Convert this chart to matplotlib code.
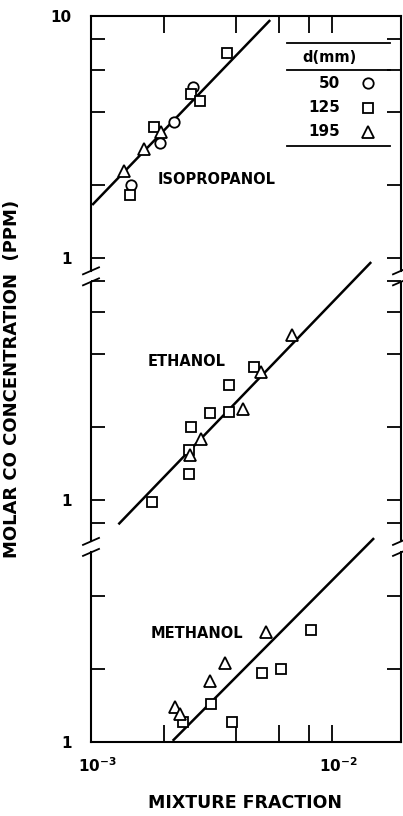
import matplotlib
matplotlib.use("Agg")
import matplotlib.pyplot as plt
import matplotlib.transforms as mtransforms
import numpy as np

plt.rcParams['font.family'] = ['DejaVu Sans']
plt.rcParams['font.weight'] = 'bold'
plt.rcParams['mathtext.fontset'] = 'dejavusans'

# ---------------- data ----------------
# Isopropanol (top panel, plotted at its own value)
iso_x_50 = [1.46e-3, 1.93e-3, 2.20e-3, 2.66e-3]
iso_y_50 = [2.0, 3.0, 3.65, 5.1]
iso_x_125 = [1.45e-3, 1.82e-3, 2.61e-3, 2.82e-3, 3.68e-3]
iso_y_125 = [1.82, 3.48, 4.76, 4.46, 7.0]
iso_x_195 = [1.37e-3, 1.66e-3, 1.95e-3]
iso_y_195 = [2.29, 2.82, 3.32]
iso_fit_x = [1.02e-3, 5.49e-3]
iso_fit_y = [1.67, 9.54]

# Ethanol (middle panel)
eth_x_125 = [1.79e-3, 2.54e-3, 2.54e-3, 2.61e-3, 3.13e-3, 3.72e-3, 3.72e-3, 4.76e-3]
eth_y_125 = [0.98, 1.28, 1.61, 2.00, 2.29, 2.31, 2.99, 3.55]
eth_x_195 = [2.57e-3, 2.87e-3, 4.25e-3, 5.09e-3, 6.84e-3]
eth_y_195 = [1.53, 1.79, 2.38, 3.38, 4.81]
eth_fit_x = [1.31e-3, 1.44e-2]
eth_fit_y = [0.80, 9.54]

# Methanol (bottom panel)
meth_x_125 = [2.40e-3, 3.16e-3, 3.83e-3, 5.14e-3, 6.15e-3, 8.19e-3]
meth_y_125 = [1.21, 1.44, 1.21, 1.93, 2.00, 2.90]
meth_x_195 = [2.22e-3, 2.35e-3, 3.13e-3, 3.58e-3, 5.34e-3]
meth_y_195 = [1.40, 1.31, 1.79, 2.12, 2.85]
meth_fit_x = [2.20e-3, 1.48e-2]
meth_fit_y = [1.02, 6.90]

# each stacked panel is shifted by a decade on the shared log axis
panel_shift = {'iso': 1.0, 'eth': 0.1, 'meth': 0.01}

legend_sizes = ['50', '125', '195']
x_tick_major = [1e-3, 1e-2]
x_tick_labels = [r'$\mathbf{10^{-3}}$', r'$\mathbf{10^{-2}}$']
x_tick_minor = [2e-3, 4e-3, 6e-3, 8e-3]
iso_ticks = [2, 4, 6, 8]
eth_ticks = [0.8, 2, 4, 6, 8]
meth_ticks = [2, 4]

# ---------------- figure ----------------
W, H = 403, 816
fig = plt.figure(figsize=(W / 100, H / 100), dpi=100)
L, R, T, B = 91, 401, 16, 742
ax = fig.add_axes([L / W, 1 - B / H, (R - L) / W, (B - T) / H])
ax.set_xscale('log')
ax.set_yscale('log')
ax.set_xlim(1e-3, 1.93e-2)
ax.set_ylim(0.01, 10)

mk = dict(mfc='white', mec='black', mew=1.3, ls='none', clip_on=False)
lw = 1.8

def shifted(ys, key):
    return np.asarray(ys) * panel_shift[key]

# isopropanol
ax.plot(iso_fit_x, shifted(iso_fit_y, 'iso'), color='black', lw=lw)
ax.plot(iso_x_50, shifted(iso_y_50, 'iso'), marker='o', ms=7.5, **mk)
ax.plot(iso_x_125, shifted(iso_y_125, 'iso'), marker='s', ms=6.5, **mk)
ax.plot(iso_x_195, shifted(iso_y_195, 'iso'), marker='^', ms=8, **mk)
# ethanol
ax.plot(eth_fit_x, shifted(eth_fit_y, 'eth'), color='black', lw=lw)
ax.plot(eth_x_125, shifted(eth_y_125, 'eth'), marker='s', ms=6.5, **mk)
ax.plot(eth_x_195, shifted(eth_y_195, 'eth'), marker='^', ms=8, **mk)
# methanol
ax.plot(meth_fit_x, shifted(meth_fit_y, 'meth'), color='black', lw=lw)
ax.plot(meth_x_125, shifted(meth_y_125, 'meth'), marker='s', ms=6.5, **mk)
ax.plot(meth_x_195, shifted(meth_y_195, 'meth'), marker='^', ms=8, **mk)

# panel names
lab_fs = 10.5
ax.text(1.89e-3, 2.12 * panel_shift['iso'], 'ISOPROPANOL', fontsize=lab_fs,
        fontweight='bold', ha='left', va='center')
ax.text(1.72e-3, 3.75 * panel_shift['eth'], 'ETHANOL', fontsize=lab_fs,
        fontweight='bold', ha='left', va='center')
ax.text(1.77e-3, 2.82 * panel_shift['meth'], 'METHANOL', fontsize=lab_fs,
        fontweight='bold', ha='left', va='center')

# ---------------- ticks ----------------
ax.set_xticks(x_tick_major, x_tick_labels)
ax.set_xticks(x_tick_minor, minor=True)
ax.xaxis.set_minor_formatter(matplotlib.ticker.NullFormatter())

y_major = [10 * panel_shift['iso'], 1 * panel_shift['iso'],
           1 * panel_shift['eth'], 1 * panel_shift['meth']]
y_major_labels = ['10', '1', '1', '1']
y_minor = ([v * panel_shift['iso'] for v in iso_ticks] +
           [v * panel_shift['eth'] for v in eth_ticks] +
           [v * panel_shift['meth'] for v in meth_ticks])
ax.set_yticks(y_major, y_major_labels)
ax.set_yticks(y_minor, minor=True)
ax.yaxis.set_minor_formatter(matplotlib.ticker.NullFormatter())

ax.tick_params(which='both', direction='in', top=True, right=True,
               length=10, width=1.3, labelsize=11)
ax.tick_params(axis='x', which='both', length=12, pad=10)
ax.tick_params(axis='y', which='both', pad=14)
shift = mtransforms.ScaledTranslation(6 / 100, 0, fig.dpi_scale_trans)
for t in ax.get_xticklabels():
    t.set_transform(t.get_transform() + shift)

ax.set_xlabel('MIXTURE FRACTION', fontsize=12.5, fontweight='bold')
ax.xaxis.set_label_coords(0.497, -0.072)
ax.set_ylabel('MOLAR CO CONCENTRATION  (PPM)', fontsize=13, fontweight='bold')
ax.yaxis.set_label_coords(-0.225, 0.5)

# ---------------- broken side spines ----------------
for s in ['top', 'bottom']:
    ax.spines[s].set_linewidth(1.5)
ax.spines['left'].set_visible(False)
ax.spines['right'].set_visible(False)

def ya(v):
    return (np.log10(v) + 2) / 3.0

break_vals = [0.84, 0.064]
gap = 5.5 / (B - T)
edges = [0.0]
for bv in sorted(break_vals):
    edges += [ya(bv) - gap, ya(bv) + gap]
edges.append(1.0)
dx = 8 / (R - L)
dy = 3.5 / (B - T)
for xs in [0.0, 1.0]:
    for i in range(0, len(edges), 2):
        ax.plot([xs, xs], [edges[i], edges[i + 1]], color='black', lw=1.5,
                transform=ax.transAxes, clip_on=False)
    for bv in break_vals:
        c = ya(bv)
        for off in (-gap, gap):
            ax.plot([xs - dx, xs + dx], [c + off - dy, c + off + dy],
                    color='black', lw=1.3, transform=ax.transAxes, clip_on=False)

# ---------------- legend table ----------------
def axx(px):
    return (px - L) / (R - L)

def axy(py):
    return (B - py) / (B - T)

for py in [43, 70, 146]:
    ax.plot([axx(287), axx(390)], [axy(py), axy(py)], color='black', lw=1.3,
            transform=ax.transAxes, clip_on=False)
ax.text(axx(302), axy(57), 'd(mm)', fontsize=10.5, fontweight='bold',
        transform=ax.transAxes, ha='left', va='center')
for lab, py, m, ms in zip(legend_sizes, [83, 108, 132], ['o', 's', '^'], [7.5, 6.5, 8]):
    ax.text(axx(340), axy(py), lab, fontsize=11, fontweight='bold',
            transform=ax.transAxes, ha='right', va='center')
    ax.plot([axx(368)], [axy(py)], marker=m, ms=ms, mfc='white', mec='black',
            mew=1.3, transform=ax.transAxes, clip_on=False)

fig.savefig('out.png', dpi=100)
